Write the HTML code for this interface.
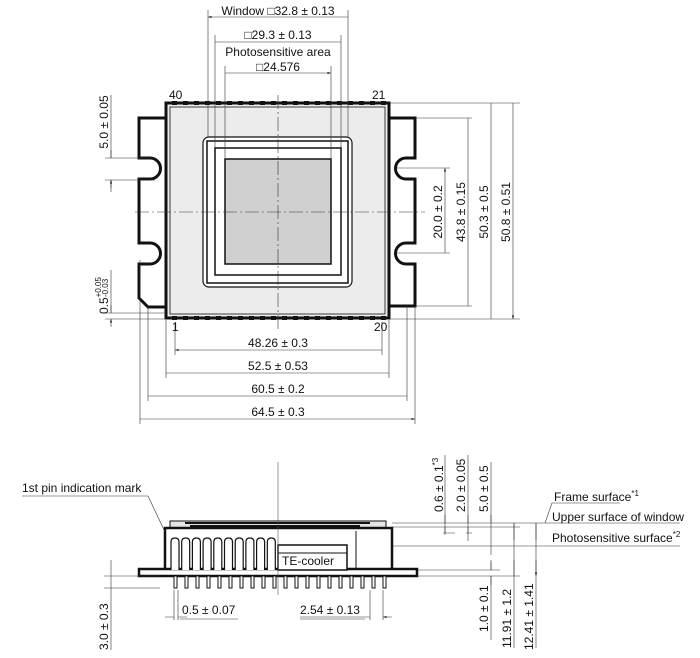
<!DOCTYPE html>
<html><head><meta charset="utf-8"><style>
html,body{margin:0;padding:0;background:#fff}
svg{display:block}
text{font-family:"Liberation Sans","DejaVu Sans",sans-serif;font-size:12px;fill:#111}
</style></head><body>
<svg id="s" width="700" height="658" viewBox="0 0 700 658" xmlns="http://www.w3.org/2000/svg">
<defs>
<marker id="a" viewBox="0 0 10 10" refX="10" refY="5" markerWidth="6" markerHeight="6" orient="auto-start-reverse"><path d="M0,2 L10,5 L0,8z" fill="#111"/></marker>
</defs>
<!-- flanges -->
<path d="M166,118 H139 V158 H150 A10.5,10.5 0 0 1 150,179 H139 V243 H150 A10.5,10.5 0 0 1 150,264 H139 V298 L148,307 H166" stroke="#111" stroke-width="3" fill="#fff"/>
<path d="M389,118 H415 V158 H406 A10.5,10.5 0 0 0 406,179 H415 V243 H406 A10.5,10.5 0 0 0 406,264 H415 V306 H389" stroke="#111" stroke-width="3" fill="#fff"/>
<!-- body -->
<rect x="166" y="103" width="223" height="215" fill="#ececec" stroke="#111" stroke-width="3"/>
<rect x="170" y="107" width="215" height="207" fill="none" stroke="#111" stroke-width="0.8"/>
<g id="pins"></g>
<rect x="203" y="137" width="149" height="150" rx="6" fill="#fff" stroke="#111" stroke-width="1.2"/>
<rect x="207" y="141" width="141" height="142" fill="#fff" stroke="#111" stroke-width="1.5"/>
<rect x="215" y="148" width="126" height="127" fill="#fff" stroke="#111" stroke-width="1.5"/>
<rect x="225" y="159" width="106" height="105" fill="#d0d0d0" stroke="#111" stroke-width="1.5"/>
<g stroke="#333" stroke-width="0.6" fill="none">
<path d="M135,212 H425" stroke-dasharray="14,3,2,3"/>
<path d="M278,95 V330" stroke-dasharray="14,3,2,3"/>
<path d="M208,10 V137 M348,10 V137 M215,35 V148 M341,35 V148 M225,66 V159 M331,66 V159"/>
<path d="M208,17 H348 M215,42 H341 M225,73 H331" marker-start="url(#a)" marker-end="url(#a)"/>
<path d="M390,103 H520 M390,319 H520 M416,118 H472 M416,306 H472 M396,168 H450 M396,253 H450"/>
<path d="M445,168 V253 M468,118 V306 M491,103 V319 M513,103 V319" marker-start="url(#a)" marker-end="url(#a)"/>
<path d="M111,95 V158 M105,158 H155 M105,180 H155 M111,180 V192"/>
<path d="M111,150 V158 M111,188 V180" marker-end="url(#a)"/>
<path d="M111,270 V313 M105,313 H166 M105,319 H166"/>
<path d="M111,305 V313 M111,327 V319" marker-end="url(#a)"/>
<path d="M175,322 V355 M382,322 V355 M166,320 V378 M389,320 V378 M148,306 V401 M407,306 V401 M140,260 V424 M415,306 V424"/>
<path d="M175,350 H382 M166,373 H389 M148,396 H407 M140,419 H415" marker-start="url(#a)" marker-end="url(#a)"/>
</g>
<g text-anchor="middle">
<text x="278" y="15">Window □32.8 ± 0.13</text>
<text x="278" y="39">□29.3 ± 0.13</text>
<text x="278" y="56">Photosensitive area</text>
<text x="278" y="71">□24.576</text>
<text x="278" y="347">48.26 ± 0.3</text>
<text x="278" y="370">52.5 ± 0.53</text>
<text x="278" y="393">60.5 ± 0.2</text>
<text x="278" y="416">64.5 ± 0.3</text>
<text transform="translate(442,212) rotate(-90)">20.0 ± 0.2</text>
<text transform="translate(465,212) rotate(-90)">43.8 ± 0.15</text>
<text transform="translate(488,212) rotate(-90)">50.3 ± 0.5</text>
<text transform="translate(510,212) rotate(-90)">50.8 ± 0.51</text>
<text transform="translate(108,122) rotate(-90)">5.0 ± 0.05</text>
</g>
<text transform="translate(108,314) rotate(-90)">0.5<tspan font-size="8" dy="-7">+0.05</tspan><tspan font-size="8" dx="-20" dy="7">-0.03</tspan></text>
<text x="169" y="99">40</text><text x="372" y="99">21</text>
<text x="172" y="331">1</text><text x="374" y="331">20</text>

<!-- side view -->
<g stroke="#111" fill="none">
<rect x="139" y="569" width="278" height="7" stroke-width="2.5" fill="#fff"/>
<rect x="170" y="521" width="216" height="7" stroke-width="1" fill="#e4e4e4"/>
<path d="M165,570 V528 H392 V570" stroke-width="2.5"/>
<path d="M190,526 H360 M185,523 H370" stroke-width="2"/>
<rect x="278" y="545" width="69" height="25" stroke-width="1.5" fill="#fff"/>
<path d="M278,553 H347" stroke-width="1"/>
<path d="M356,531 V570" stroke-width="1"/>
<g id="fins" stroke-width="1.2"></g>
<path d="M278,462 V595" stroke="#555" stroke-width="0.6"/>
<g id="spins" stroke-width="1"></g>
</g>
<g stroke="#333" stroke-width="0.6" fill="none">
<path d="M392,523 H680 M392,527 H520 M392,546 H680 M417,570 H500 M417,576 H520"/>
<path d="M445,455 V533 M468,455 V533 M491,462 V546 M491,560 V570 M491,576 V640 M514,523 V648 M536,523 V648 M443,533 H455 M466,533 H472"/>
<path d="M445,515 V523 M445,535 V527 M468,515 V523 M468,541 V527 M491,515 V523 M491,555 V546 M491,562 V570 M491,585 V576 M514,540 V523 M514,560 V576 M536,540 V523 M536,560 V576" marker-end="url(#a)"/>
<path d="M22,496 H148 L165,532"/>
<path d="M552,503 H620 M552,503 L545,523"/>
<path d="M111,570 V650 M104,576 H160 M104,588 H160 M111,560 V576 M111,598 V588"/>
<path d="M174,590 V620 M178,590 V620 M370,590 V620 M383,590 V620"/>
<path d="M165,617 H174 M187,617 H178 M300,617 H370 M392,617 H383" marker-end="url(#a)"/>
<path d="M180,619 H238 M300,619 H365"/>
</g>
<text x="282" y="565">TE-cooler</text>
<text x="22" y="492">1st pin indication mark</text>
<text x="182" y="614">0.5 ± 0.07</text>
<text x="300" y="614">2.54 ± 0.13</text>
<text x="554" y="501">Frame surface<tspan font-size="8" dy="-5">*1</tspan></text>
<text x="552" y="521">Upper surface of window</text>
<text x="552" y="542">Photosensitive surface<tspan font-size="8" dy="-5">*2</tspan></text>
<g>
<text transform="translate(443,512) rotate(-90)">0.6 ± 0.1<tspan font-size="8" dy="-5">*3</tspan></text>
<text transform="translate(465,512) rotate(-90)">2.0 ± 0.05</text>
<text transform="translate(488,512) rotate(-90)">5.0 ± 0.5</text>
<text transform="translate(488,632) rotate(-90)">1.0 ± 0.1</text>
<text transform="translate(511,648) rotate(-90)">11.91 ± 1.2</text>
<text transform="translate(533,650) rotate(-90)">12.41 ± 1.41</text>
<text transform="translate(108,650) rotate(-90)">3.0 ± 0.3</text>
</g>
</svg>
<script>
var NS="http://www.w3.org/2000/svg";
function el(p,t,a){var e=document.createElementNS(NS,t);for(var k in a)e.setAttribute(k,a[k]);p.appendChild(e);return e;}
var pins=document.getElementById("pins");
for(var i=0;i<20;i++){var x=172+i*11;el(pins,"rect",{x:x,y:101,width:5,height:4,fill:"#111"});el(pins,"rect",{x:x,y:316,width:5,height:4,fill:"#111"});}
var fins=document.getElementById("fins");
for(var i=0;i<10;i++){var x=170+i*10.7;el(fins,"path",{d:"M"+(x+1)+",570 V542 Q"+(x+1)+",538 "+(x+5)+",538 Q"+(x+9)+",538 "+(x+9)+",542 V570",fill:"#fff"});}
var sp=document.getElementById("spins");
for(var i=0;i<20;i++){var x=174+i*11;el(sp,"rect",{x:x,y:576,width:3,height:12,fill:"#fff"});}
</script>
</body></html>
